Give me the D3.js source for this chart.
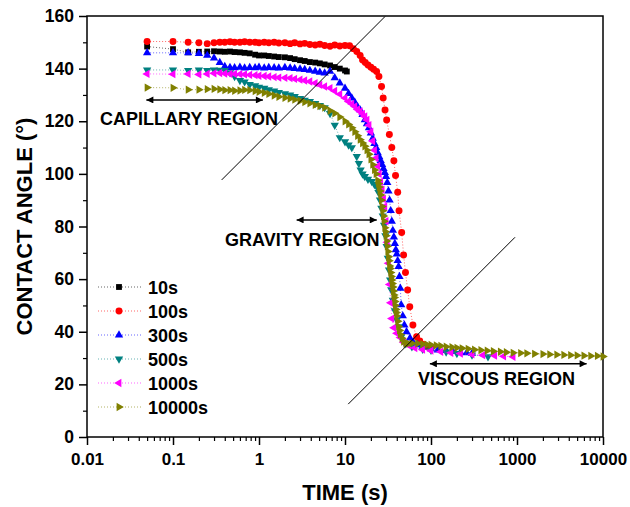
<!DOCTYPE html>
<html>
<head>
<meta charset="utf-8">
<script src="https://cdn.jsdelivr.net/npm/d3@7"></script>
<style>
  body { margin: 0; background: #fff; }
  svg { display: block; font-family: Arial, "Liberation Sans", sans-serif; font-weight: bold; }
</style>
</head>
<body>
<svg id="chart" width="630" height="507"></svg>
<script>
// Contact angle vs time
const tEarly = [0.05, 0.1, 0.15, 0.2, 0.25, 0.3, 0.35, 0.4, 0.46, 0.52, 0.6, 0.68, 0.78, 0.9, 1, 1.15,
  1.3, 1.5, 1.7, 2, 2.3, 2.6, 3, 3.4, 3.9, 4.5, 5.1, 5.8, 6.7, 7.6, 8.7, 10];

const t10 = tEarly.concat([10.5]);
const a10 = [148.4, 147.4, 146.2, 146.4, 146.5, 146.6, 146.5, 146.4, 146.5, 146.3, 146.2, 146.0, 145.8, 145.3,
  145.0, 145.0, 144.8, 144.6, 144.4, 144.3, 144.0, 143.6, 143.2, 142.9, 142.5, 142.3, 142.0, 141.6, 141.2,
  140.6, 140.0, 139.3, 138.9];

const t100 = tEarly.concat([11.3, 12.5, 13.7, 15, 16, 17.2, 18.5, 20, 21.5, 23.3, 24.8, 26.6, 27.8, 29.2, 30.5,
  32.8, 35, 37, 38.7, 41, 42.5, 45.6, 48, 50.5, 53.5, 56.6, 61.6, 68, 74, 82, 90, 100]);
const a100 = [150.3, 150.3, 150.0, 149.8, 149.5, 149.8, 150.0, 150.0, 150.2, 150.0, 150.0, 150.2, 150.0, 150.0,
  149.8, 150.0, 149.8, 150.0, 149.7, 149.8, 149.5, 149.8, 149.4, 149.6, 149.2, 149.0, 149.3, 148.8, 148.5,
  149.0, 148.6, 148.8,
  148.7, 147.6, 146.5, 145, 143.3, 142.3, 141.4, 140.5, 139.8, 138.9, 137, 133.2, 128.8, 124.3, 120.5, 115,
  110, 105, 99.4, 93, 86, 77.7, 69.2, 62.5, 55.9, 49.5, 42.6, 38.1, 36.5, 35.2, 34.5, 34];

const t300 = tEarly.concat([11, 12, 13, 14, 15, 16, 17, 18, 19, 20, 21, 22, 23, 24, 25, 26, 27, 28, 29, 30, 31,
  32, 33, 34, 35, 36, 37, 38, 39, 40, 41, 42, 43, 44, 45, 47, 49, 52, 57, 62, 70, 80, 100, 120, 150, 180,
  220, 260, 300]);
const a300 = [146.0, 146.0, 146.0, 145.7, 145.0, 144.0, 142.3, 140.8, 140.4, 140.3, 140.5, 140.2, 140.4, 140.3,
  140.5, 140.2, 140.4, 140.3, 140.2, 140.4, 140.2, 140.0, 139.8, 139.6, 139.3, 139.0, 138.6, 138.3, 139.0,
  136.5, 134.5, 132.5,
  130.5, 128.8, 127.2, 125.5, 124.3, 122.5, 120.5, 119, 117.5, 115.5, 113.5, 111.5, 110, 108, 106.5, 105,
  103.5, 102, 100.5, 99, 96.7, 93.5, 90, 86, 82, 78.5, 76, 73.5, 71.1, 69.5, 67, 64.8, 61, 56.5, 50.2, 46,
  42.5, 40, 37.6, 36, 35, 34.2, 33.5, 33, 32.8, 32.5, 32.2, 32, 31.8];

const t500 = tEarly.concat([11, 12, 13.7, 14.5, 15.2, 16, 17, 18.5, 20.5, 22, 23.3, 24.5, 25.5, 26.5, 27.5, 28.5,
  29.5, 30.5, 31.5, 32.5, 33.5, 34.5, 36, 38, 40, 42, 45, 50, 60, 80, 100, 150, 200, 300, 460]);
const a500 = [139.5, 139.5, 139.3, 139.5, 139.3, 139.5, 139.4, 139.3, 138.5, 137.0, 135.5, 135.0, 134.0, 133.5,
  133.0, 132.6, 132.0, 131.5, 131.0, 130.5, 130.0, 129.4, 128.7, 128.0, 127.5, 126.8, 126.0, 125.2, 123.0,
  118.5, 113.8, 112.2,
  111, 110, 106.6, 104, 101.5, 100, 99, 98, 97.1, 96, 95.2, 93, 90.1, 87, 84, 80.5, 76.5, 72.4, 68, 63.5,
  59.7, 56, 52, 48, 44.5, 41.9, 38, 35.5, 34.3, 33.4, 33, 32.3, 31.8, 31.2, 30.5];

const t1000 = tEarly.concat([11, 12, 13, 14, 15, 16, 17, 18, 19, 20, 21, 22, 23, 24, 25, 26, 27, 28, 29, 30, 31,
  32, 33, 34, 35, 37, 40, 44, 48, 55, 65, 80, 100, 130, 170, 220, 300, 400, 550, 700, 900]);
const a1000 = [138.0, 137.9, 138.0, 137.8, 138.0, 138.2, 138.3, 138.1, 138.0, 138.0, 137.9, 137.8, 137.6, 137.5,
  137.3, 137.2, 137.0, 136.8, 136.6, 136.5, 136.4, 136.1, 135.8, 135.5, 135.1, 134.5, 133.8, 133.2, 132.6,
  131.5, 130.3, 128.8,
  127.5, 126.6, 125.6, 124.5, 123.7, 122.8, 121.8, 120.5, 118.5, 116, 112.5, 109, 106, 103, 100, 97, 94,
  90.5, 87.6, 82, 74, 66, 58, 51, 45, 41.5, 39.4, 37.8, 36, 34.8, 33.8, 33.2, 32.8, 32.4, 32, 31.7, 31.4,
  31.1, 30.9, 30.7, 30.5];

const t10000 = tEarly.concat([11, 12, 13, 14, 15, 16, 17, 18, 19, 20, 21, 22, 23, 24,
  24.5, 25, 25.5, 26, 26.5, 27, 27.5, 28, 28.5, 29, 29.5, 30, 30.5, 31, 31.5, 32, 32.5, 33, 33.5, 34, 34.5,
  35, 35.5, 36, 36.5, 37, 37.5, 38, 38.5, 39, 39.5, 40, 41, 42, 43, 44, 46, 48, 51, 55, 60, 70, 80, 90, 100,
  115, 130, 150, 175, 200, 230, 270, 320, 380, 450, 530, 640, 750, 900, 1100, 1300, 1600, 2000, 2400, 2900,
  3500, 4200, 5000, 6000, 7200, 8600, 10000]);
const a10000 = [132.8, 132.7, 132.0, 132.0, 132.2, 132.3, 132.1, 131.8, 131.8, 131.6, 131.7, 131.9, 131.8, 131.5,
  131.2, 130.8, 130.4, 129.8, 129.3, 128.9, 128.6, 128.2, 127.8, 127.3, 126.8, 126.2, 125.8, 125.2, 124.0,
  123.0, 121.6, 120.0,
  118.8, 117.5, 116, 114.5, 113, 111.7, 110.5, 109, 107.5, 105.5, 103.5, 101.5, 100, 97.5,
  96.3, 95, 93.5, 92, 90, 87.6, 86, 84, 82, 79.5, 78, 76.5, 74.5, 72.5, 70.5, 68.5, 67, 65, 64, 62.5,
  61, 59.7, 58.3, 57, 55.5, 54, 53, 51.5, 50, 48.5, 47.3, 46, 44, 42, 40.5, 39, 37.5, 36.3, 35.5, 35.5, 35.6,
  35.5, 35.3, 35.1, 35, 34.8, 34.6, 34.3, 34.1, 33.9, 33.7, 33.5, 33.2, 33, 32.8, 32.6, 32.4, 32.2, 32,
  31.9, 31.8, 31.6, 31.5, 31.4, 31.3, 31.2, 31.1, 31, 30.9, 30.8, 30.8, 30.6];

const seriesNames = ["10s", "100s", "300s", "500s", "1000s", "10000s"];
const seriesTimes = [t10, t100, t300, t500, t1000, t10000];
const seriesAngles = [a10, a100, a300, a500, a1000, a10000];
const seriesColors = ["#000000", "#ff0000", "#0000ff", "#008080", "#ff00ff", "#808000"];
// symbol type and rotation for each series
const seriesShapes = ["square", "circle", "up", "down", "left", "right"];

const xTicks = [0.01, 0.1, 1, 10, 100, 1000, 10000];
const yTicks = [0, 20, 40, 60, 80, 100, 120, 140, 160];

// region annotations (data units)
const guideLines = [[[0.368, 97.7], [29.2, 159.8]], [[10.9, 12.5], [948, 75.9]]];
const regionArrows = [[0.049, 1.11, 128.1], [2.74, 23.4, 82.5], [97, 6450, 27.8]];
const regionLabels = [["CAPILLARY REGION", 0.0142, 118.6], ["GRAVITY REGION", 0.403, 72.6], ["VISCOUS REGION", 70.6, 19.8]];

const svg = d3.select("#chart");
const margin = { top: 16, right: 27, bottom: 70, left: 87 };
const W = 630, H = 507;

const x = d3.scaleLog().domain([0.01, 10000]).range([margin.left, W - margin.right]);
const y = d3.scaleLinear().domain([0, 160]).range([H - margin.bottom, margin.top]);

// axes
const xMinor = [];
xTicks.slice(0, -1).forEach(d => [2, 3, 4, 5, 6, 7, 8, 9].forEach(k => xMinor.push(d * k)));
svg.append("g")
  .attr("transform", `translate(0,${y(0)})`)
  .call(d3.axisBottom(x).tickValues(xMinor).tickSize(4).tickFormat(""))
  .call(g => g.select(".domain").remove())
  .call(g => g.selectAll("line").attr("stroke-width", 1.2));
svg.append("g")
  .attr("transform", `translate(0,${y(0)})`)
  .call(d3.axisBottom(x).tickValues(xTicks).tickSize(8).tickPadding(8).tickFormat(d => String(d)))
  .call(g => g.select(".domain").remove())
  .call(g => g.selectAll("line").attr("stroke-width", 1.5))
  .call(g => g.selectAll("text").attr("font-size", 17).attr("font-weight", "bold").attr("fill", "#000")
    .attr("font-family", "Arial, 'Liberation Sans', sans-serif"));

svg.append("g")
  .attr("transform", `translate(${x(0.01)},0)`)
  .call(d3.axisLeft(y).tickValues([10, 30, 50, 70, 90, 110, 130, 150]).tickSize(4).tickFormat(""))
  .call(g => g.select(".domain").remove())
  .call(g => g.selectAll("line").attr("stroke-width", 1.2));
svg.append("g")
  .attr("transform", `translate(${x(0.01)},0)`)
  .call(d3.axisLeft(y).tickValues(yTicks).tickSize(8).tickPadding(5))
  .call(g => g.select(".domain").remove())
  .call(g => g.selectAll("line").attr("stroke-width", 1.5))
  .call(g => g.selectAll("text").attr("font-size", 17.5).attr("font-weight", "bold").attr("fill", "#000")
    .attr("font-family", "Arial, 'Liberation Sans', sans-serif"));

// frame
svg.append("rect")
  .attr("x", x(0.01)).attr("y", y(160))
  .attr("width", x(10000) - x(0.01)).attr("height", y(0) - y(160))
  .attr("fill", "none").attr("stroke", "#000").attr("stroke-width", 1.5);

// axis titles
svg.append("text")
  .attr("x", (x(0.01) + x(10000)) / 2).attr("y", 500)
  .attr("text-anchor", "middle").attr("font-size", 22).text("TIME (s)");
svg.append("text")
  .attr("transform", `translate(32,${(y(0) + y(160)) / 2}) rotate(-90)`)
  .attr("text-anchor", "middle").attr("font-size", 22).text("CONTACT ANGLE (\u00B0)");

// markers
function symbolPath(shape) {
  if (shape === "square") return d3.symbol(d3.symbolSquare, 34)();
  if (shape === "circle") return d3.symbol(d3.symbolCircle, 38)();
  return d3.symbol(d3.symbolTriangle, 30)();
}
const rotation = { square: 0, circle: 0, up: 0, down: 180, left: -90, right: 90 };

const plot = svg.append("g");
const line = d3.line().x(d => x(d[0])).y(d => y(d[1]));

seriesNames.forEach((name, i) => {
  const pts = seriesTimes[i].map((t, j) => [t, seriesAngles[i][j]]);
  const g = plot.append("g");
  g.append("path")
    .attr("d", line(pts))
    .attr("fill", "none")
    .attr("stroke", seriesColors[i])
    .attr("stroke-width", 1)
    .attr("stroke-dasharray", "1,2")
    .attr("opacity", 0.6);
  g.selectAll("path.pt")
    .data(pts)
    .join("path")
    .attr("class", "pt")
    .attr("d", symbolPath(seriesShapes[i]))
    .attr("fill", seriesColors[i])
    .attr("transform", d => `translate(${x(d[0])},${y(d[1])}) rotate(${rotation[seriesShapes[i]]})`);
});

// guide lines
guideLines.forEach(l => {
  svg.append("line")
    .attr("x1", x(l[0][0])).attr("y1", y(l[0][1]))
    .attr("x2", x(l[1][0])).attr("y2", y(l[1][1]))
    .attr("stroke", "#000").attr("stroke-width", 1);
});

// double arrows
const defs = svg.append("defs");
defs.append("marker")
  .attr("id", "arr").attr("viewBox", "0 0 10 10").attr("refX", 10).attr("refY", 5)
  .attr("markerWidth", 10).attr("markerHeight", 7).attr("markerUnits", "userSpaceOnUse")
  .attr("orient", "auto-start-reverse")
  .append("path").attr("d", "M0,0 L10,5 L0,10 Z").attr("fill", "#000");

regionArrows.forEach(a => {
  svg.append("line")
    .attr("x1", x(a[0])).attr("x2", x(a[1]))
    .attr("y1", y(a[2])).attr("y2", y(a[2]))
    .attr("stroke", "#000").attr("stroke-width", 1.5)
    .attr("marker-start", "url(#arr)").attr("marker-end", "url(#arr)");
});

regionLabels.forEach(r => {
  svg.append("text")
    .attr("x", x(r[1])).attr("y", y(r[2]))
    .attr("font-size", 18).text(r[0]);
});

// legend
const legend = svg.append("g").attr("transform", "translate(98,287)");
seriesNames.forEach((name, i) => {
  const row = legend.append("g").attr("transform", `translate(0,${i * 24})`);
  row.append("line")
    .attr("x1", 0).attr("x2", 45)
    .attr("stroke", seriesColors[i]).attr("stroke-width", 1)
    .attr("stroke-dasharray", "1,2").attr("opacity", 0.6);
  row.append("path")
    .attr("d", symbolPath(seriesShapes[i]))
    .attr("fill", seriesColors[i])
    .attr("transform", `translate(21,0) rotate(${rotation[seriesShapes[i]]})`);
  row.append("text")
    .attr("x", 50).attr("y", 6.5)
    .attr("font-size", 18).text(name);
});
</script>
</body>
</html>
